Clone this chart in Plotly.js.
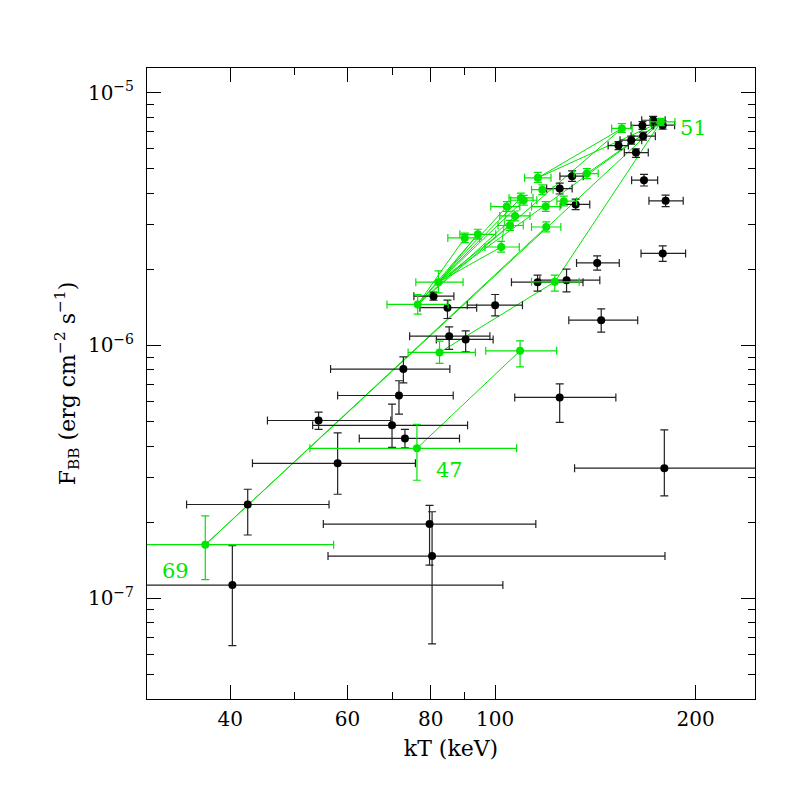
<!DOCTYPE html>
<html>
<head>
<meta charset="utf-8">
<script src="https://cdn.plot.ly/plotly-3.0.1.min.js"></script>
<style>
  html, body { margin: 0; padding: 0; background: #fff; }
  #chart { width: 797px; height: 797px; }
</style>
</head>
<body>
<div id="chart"></div>
<script>
// ── black points: kT (keV), F_BB, with error bar limits ──
const bKT   = [40.3, 42.5, 58.0, 54.3, 70.0, 73.2, 71.7, 72.8, 79.7, 80.4, 85.3, 90.3, 80.8, 84.8, 100.0, 115.8, 128.0, 142.3, 144.3, 125.0, 179.5, 178.5, 180.3, 167.3, 162.7, 153.2, 160.1, 166.8, 166.4, 172.7, 178.5, 130.5, 125.0, 132.1];
const bKTlo = [20.0, 34.4, 43.2, 45.5, 53.2, 62.5, 58.0, 56.6, 55.2, 56.1, 74.4, 81.6, 75.5, 77.1, 90.8, 105.8, 116.7, 132.5, 129.0, 107.0, 131.6, 165.6, 170.2, 160.3, 156.3, 147.8, 154.0, 160.0, 160.0, 166.0, 172.0, 125.1, 119.5, 125.5];
const bKThi = [102.7, 56.3, 75.9, 69.7, 90.9, 88.4, 86.5, 85.5, 115.1, 179.9, 98.2, 99.3, 86.7, 93.8, 109.9, 135.5, 143.6, 153.6, 163.7, 151.8, 300.0, 193.2, 191.6, 175.4, 169.8, 158.5, 166.0, 174.0, 173.0, 180.0, 186.0, 135.6, 130.5, 138.7];
const bF    = [1.129e-7, 2.35e-7, 3.42e-7, 5.05e-7, 4.83e-7, 4.29e-7, 6.34e-7, 8.06e-7, 1.966e-7, 1.47e-7, 1.088e-6, 1.056e-6, 1.566e-6, 1.41e-6, 1.443e-6, 1.779e-6, 1.811e-6, 2.12e-6, 1.259e-6, 6.23e-7, 3.27e-7, 2.31e-6, 3.73e-6, 4.50e-6, 5.79e-6, 6.17e-6, 6.48e-6, 6.72e-6, 7.41e-6, 7.77e-6, 7.43e-6, 4.67e-6, 4.17e-6, 3.61e-6];
const bFlo  = [6.50e-8, 1.78e-7, 2.58e-7, 4.66e-7, 3.95e-7, 3.94e-7, 5.35e-7, 7.11e-7, 1.354e-7, 6.61e-8, 9.64e-7, 9.43e-7, 1.51e-6, 1.278e-6, 1.309e-6, 1.639e-6, 1.629e-6, 1.984e-6, 1.129e-6, 4.96e-7, 2.54e-7, 2.148e-6, 3.54e-6, 4.27e-6, 5.54e-6, 5.95e-6, 6.25e-6, 6.48e-6, 7.15e-6, 7.50e-6, 7.17e-6, 4.45e-6, 3.97e-6, 3.44e-6];
const bFhi  = [1.614e-7, 2.70e-7, 4.51e-7, 5.45e-7, 5.86e-7, 4.66e-7, 7.25e-7, 9.01e-7, 2.33e-7, 2.20e-7, 1.184e-6, 1.142e-6, 1.624e-6, 1.51e-6, 1.59e-6, 1.896e-6, 2.003e-6, 2.261e-6, 1.395e-6, 7.05e-7, 4.64e-7, 2.476e-6, 3.93e-6, 4.75e-6, 5.99e-6, 6.40e-6, 6.72e-6, 6.97e-6, 7.68e-6, 8.05e-6, 7.70e-6, 4.90e-6, 4.38e-6, 3.79e-6];

// ── green points (one burst) ──
const gKT   = [36.7, 76.3, 82.5, 109.0, 76.5, 82.2, 122.9, 90.0, 94.2, 102.1, 105.3, 107.1, 104.1, 109.3, 110.4, 119.1, 119.3, 126.8, 117.7, 115.9, 137.3, 155.0, 177.3];
const gKTlo = [20.0, 52.7, 74.0, 96.8, 68.8, 76.0, 113.4, 84.9, 88.5, 96.5, 101.0, 101.6, 98.5, 104.9, 105.5, 113.4, 113.4, 123.8, 113.4, 110.7, 131.4, 149.6, 170.8];
const gKThi = [57.2, 107.7, 93.4, 123.7, 85.0, 89.5, 133.7, 94.8, 100.2, 108.7, 110.2, 112.8, 108.9, 114.0, 115.5, 125.1, 125.5, 132.5, 122.2, 121.3, 142.8, 160.6, 186.2];
const gF    = [1.63e-7, 3.92e-7, 9.38e-7, 9.52e-7, 1.452e-6, 1.779e-6, 1.784e-6, 2.66e-6, 2.75e-6, 2.45e-6, 2.98e-6, 3.25e-6, 3.54e-6, 3.83e-6, 3.75e-6, 3.54e-6, 2.94e-6, 3.72e-6, 4.13e-6, 4.60e-6, 4.78e-6, 7.21e-6, 7.65e-6];
const gFlo  = [1.185e-7, 2.93e-7, 8.49e-7, 8.23e-7, 1.33e-6, 1.614e-6, 1.639e-6, 2.55e-6, 2.63e-6, 2.34e-6, 2.85e-6, 3.11e-6, 3.39e-6, 3.66e-6, 3.59e-6, 3.39e-6, 2.81e-6, 3.56e-6, 3.95e-6, 4.41e-6, 4.57e-6, 6.95e-6, 7.40e-6];
const gFhi  = [2.12e-7, 4.87e-7, 1.04e-6, 1.043e-6, 1.59e-6, 1.97e-6, 1.896e-6, 2.78e-6, 2.88e-6, 2.58e-6, 3.12e-6, 3.40e-6, 3.70e-6, 4.00e-6, 3.92e-6, 3.70e-6, 3.08e-6, 3.89e-6, 4.31e-6, 4.83e-6, 5.00e-6, 7.54e-6, 7.90e-6];

// pairs of green points joined by a line
const gLinks = [[0, 22], [0, 16], [1, 3], [2, 6], [6, 22], [4, 7], [4, 8], [4, 11], [4, 12], [4, 21], [5, 8], [5, 9], [5, 10], [5, 13], [5, 14], [5, 22], [9, 12], [19, 21], [19, 22], [20, 22]];

// labelled green points
const gLabels = [{ i: 22, text: '51' }, { i: 1, text: '47' }, { i: 0, text: '69' }];

const GREEN = 'rgb(0,230,0)';
const FONT = 'DejaVu Serif, Liberation Serif, serif';

const minus = (v, lo) => v.map((x, i) => x - lo[i]);
const plus  = (v, hi) => v.map((x, i) => hi[i] - x);

// line path built from link pairs
const linkX = [], linkY = [];
gLinks.forEach(([a, b]) => {
    linkX.push(gKT[a], gKT[b], null);
    linkY.push(gF[a], gF[b], null);
});

const traces = [
    {
        type: 'scatter', mode: 'lines', x: linkX, y: linkY,
        line: { color: GREEN, width: 1 }, hoverinfo: 'skip', connectgaps: false,
    },
    {
        type: 'scatter', mode: 'markers', x: bKT, y: bF,
        marker: { color: '#000', size: 8 },
        error_x: { type: 'data', array: plus(bKT, bKThi), arrayminus: minus(bKT, bKTlo), color: '#222', thickness: 1.2, width: 4 },
        error_y: { type: 'data', array: plus(bF, bFhi), arrayminus: minus(bF, bFlo), color: '#222', thickness: 1.2, width: 4 },
    },
    {
        type: 'scatter', mode: 'markers', x: gKT, y: gF,
        marker: { color: GREEN, size: 8 },
        error_x: { type: 'data', array: plus(gKT, gKThi), arrayminus: minus(gKT, gKTlo), color: GREEN, thickness: 1.2, width: 4 },
        error_y: { type: 'data', array: plus(gF, gFhi), arrayminus: minus(gF, gFlo), color: GREEN, thickness: 1.2, width: 4 },
    },
];

const shifts = { '51': [33, -6], '47': [33, -22], '69': [-30, -26] };
const annotations = gLabels.map(l => ({
    x: Math.log10(gKT[l.i]), y: Math.log10(gF[l.i]), xref: 'x', yref: 'y',
    text: l.text, showarrow: false, xshift: shifts[l.text][0], yshift: shifts[l.text][1],
    font: { family: FONT, size: 21, color: GREEN },
}));

const axisBase = {
    type: 'log', showline: true, linecolor: '#000', linewidth: 1, mirror: 'allticks',
    ticks: 'inside', ticklen: 14, tickcolor: '#000', tickwidth: 1,
    showgrid: false, zeroline: false, tickfont: { family: FONT, size: 20, color: '#000' },
};

const layout = {
    width: 797, height: 797,
    paper_bgcolor: '#fff', plot_bgcolor: '#fff',
    margin: { l: 147, r: 42, t: 68, b: 98 },
    showlegend: false,
    xaxis: Object.assign({}, axisBase, {
        range: [Math.log10(30), Math.log10(245.6)],
        tickmode: 'array', tickvals: [40, 60, 80, 100, 200], ticktext: ['40', '60', '80', '100', '200'],
        ticklabelstandoff: 2,
        minor: { tickvals: [50, 70, 90], ticklen: 7, ticks: 'inside', tickcolor: '#000' },
        title: { text: 'kT (keV)', font: { family: FONT, size: 22, color: '#000' }, standoff: 10 },
    }),
    yaxis: Object.assign({}, axisBase, {
        range: [Math.log10(4.0e-8), Math.log10(1.25e-5)],
        tickmode: 'array', tickvals: [1e-7, 1e-6, 1e-5],
        ticktext: ['10<sup>−7</sup>', '10<sup>−6</sup>', '10<sup>−5</sup>'],
        ticklabelstandoff: 8,
        minor: {
            tickvals: [5e-8, 6e-8, 7e-8, 8e-8, 9e-8, 2e-7, 3e-7, 4e-7, 5e-7, 6e-7, 7e-7, 8e-7, 9e-7,
                       2e-6, 3e-6, 4e-6, 5e-6, 6e-6, 7e-6, 8e-6, 9e-6],
            ticklen: 7, ticks: 'inside', tickcolor: '#000',
        },
        title: { text: 'F<sub>BB</sub> (erg cm<sup>−2</sup> s<sup>−1</sup>)', font: { family: FONT, size: 22, color: '#000' }, standoff: 6 },
    }),
    annotations: annotations,
};

Plotly.newPlot('chart', traces, layout, { staticPlot: true });
</script>
</body>
</html>
